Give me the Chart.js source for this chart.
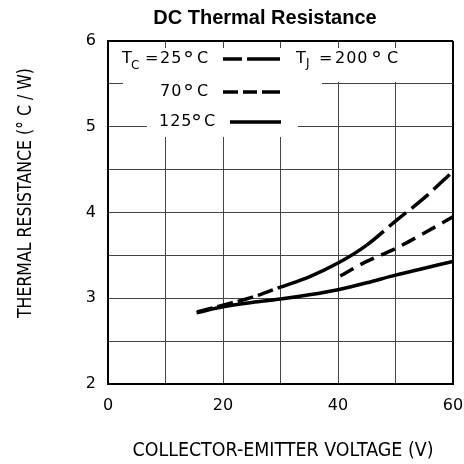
<!DOCTYPE html>
<html>
<head>
<meta charset="utf-8">
<script src="https://cdn.jsdelivr.net/npm/chart.js@4"></script>
<style>
  html, body { margin: 0; padding: 0; background: #ffffff; }
  #canvas { display: block; }
</style>
</head>
<body>
<canvas id="canvas" width="464" height="464"></canvas>
<script>
"use strict";

// curve data
const volts_25 = [15.5, 20, 25, 30, 35, 40, 45, 50, 55, 60];
const res_25 = [2.84, 2.92, 3.01, 3.13, 3.25, 3.41, 3.62, 3.9, 4.17, 4.48];

const volts_70 = [40.4, 45, 50, 55, 60];
const res_70 = [3.26, 3.43, 3.58, 3.76, 3.95];

const volts_125 = [15.4, 20, 25, 30, 35, 40, 45, 50, 55, 60];
const res_125 = [2.83, 2.9, 2.95, 2.99, 3.04, 3.1, 3.18, 3.27, 3.35, 3.43];

const x_tick_labels = [0, 20, 40, 60];
const y_tick_labels = [2, 3, 4, 5, 6];

const toPoints = (xs, ys) => xs.map((x, i) => ({ x: x, y: ys[i] }));

const canvas = document.getElementById("canvas");
const ctx = canvas.getContext("2d");

const TEXT_FONT = "DejaVu Sans";

// draws text squeezed/stretched to a given width (datasheet font is tall and narrow)
const fitText = (c, text, cx, cy, width, rotate) => {
  c.save();
  c.translate(cx, cy);
  if (rotate) c.rotate(-Math.PI / 2);
  const w = c.measureText(text).width;
  c.scale(width / w, 1);
  c.textAlign = "center";
  c.textBaseline = "middle";
  c.fillText(text, 0, 0);
  c.restore();
};

const legendBoxes = {
  id: "legendBoxes",
  beforeDatasetsDraw(chart) {
    const c = chart.ctx;
    c.save();
    c.fillStyle = "#ffffff";
    c.fillRect(109, 48, 343, 34);
    c.fillRect(123, 82, 199, 26);
    c.fillRect(147, 108, 151, 29);
    c.restore();
  },
};

const annotations = {
  id: "annotations",
  afterDraw(chart) {
    const c = chart.ctx;
    c.save();
    c.fillStyle = "#000000";
    c.strokeStyle = "#000000";

    // title
    c.font = "bold 20px 'Liberation Sans', Arial, sans-serif";
    c.textAlign = "center";
    c.textBaseline = "middle";
    c.fillText("DC Thermal Resistance", 265, 18);

    // axis titles
    c.font = "19px '" + TEXT_FONT + "'";
    fitText(c, "COLLECTOR-EMITTER VOLTAGE (V)", 283, 451, 301, false);
    fitText(c, "THERMAL RESISTANCE (\u00B0 C / W)", 26, 193, 250, true);

    // legend text
    c.textAlign = "left";
    c.letterSpacing = "1px";
    const big = "16px '" + TEXT_FONT + "'";
    const small = "12px '" + TEXT_FONT + "'";
    const deg = "22px '" + TEXT_FONT + "'";
    const put = (t, x, y, f) => {
      c.font = f;
      c.textBaseline = "middle";
      c.fillText(t, x, y);
    };
    // degree sign placed by its baseline so the circle sits near cap top
    const putDeg = (x, y) => {
      c.font = deg;
      c.textBaseline = "alphabetic";
      c.fillText("\u00B0", x, y + 8);
    };
    put("T", 122, 59, big);
    put("C", 131, 66, small);
    put("=", 145, 59, big);
    put("25", 160, 59, big);
    putDeg(183, 59);
    put("C", 197, 59, big);

    put("T", 296, 59, big);
    put("J", 306, 64, small);
    put("=", 319, 59, big);
    put("200", 335, 59, big);
    putDeg(371, 59);
    put("C", 387, 59, big);

    put("70", 160, 92, big);
    putDeg(183, 92);
    put("C", 197, 92, big);

    put("125", 159, 122, big);
    putDeg(191, 122);
    put("C", 204, 122, big);

    // legend line samples
    c.lineWidth = 3.5;
    c.lineCap = "butt";
    const seg = (x0, x1, y) => {
      c.beginPath();
      c.moveTo(x0, y);
      c.lineTo(x1, y);
      c.stroke();
    };
    seg(223, 242, 59);
    seg(247, 280, 59);
    seg(223, 238, 92);
    seg(243, 257, 92);
    seg(262, 280, 92);
    seg(230, 281, 122);
    c.restore();
  },
};

const edgeWidth = (edgeValue) => (context) =>
  context.tick && context.tick.value === edgeValue ? 2 : 1;
const edgeColor = (edgeValue) => (context) =>
  context.tick && context.tick.value === edgeValue ? "#000000" : "#444444";

const config = {
  type: "scatter",
  data: {
    datasets: [
      {
        label: "25",
        data: toPoints(volts_25, res_25),
        showLine: true,
        borderColor: "#000000",
        borderWidth: 3.5,
        pointRadius: 0,
        cubicInterpolationMode: "monotone",
        segment: {
          borderDash: (s) => {
            const x = s.p0.parsed.x;
            if (x < 27) return [16, 5];
            if (x >= 45) return [22, 7];
            return [];
          },
        },
      },
      {
        label: "70",
        data: toPoints(volts_70, res_70),
        showLine: true,
        borderColor: "#000000",
        borderWidth: 3.5,
        borderDash: [15, 8],
        pointRadius: 0,
        cubicInterpolationMode: "monotone",
      },
      {
        label: "125",
        data: toPoints(volts_125, res_125),
        showLine: true,
        borderColor: "#000000",
        borderWidth: 3.5,
        pointRadius: 0,
        cubicInterpolationMode: "monotone",
      },
    ],
  },
  plugins: [legendBoxes, annotations],
  options: {
    responsive: false,
    animation: false,
    devicePixelRatio: 1,
    layout: {
      padding: { top: 41, right: 0, left: 0, bottom: 0 },
    },
    plugins: {
      legend: { display: false },
      title: { display: false },
      tooltip: { enabled: false },
    },
    scales: {
      x: {
        type: "linear",
        min: 0,
        max: 60,
        afterFit: (scale) => {
          scale.height = 80;
          // keep the plot frame near the right edge like the datasheet
          scale.paddingRight = 11;
          scale.paddingLeft = 0;
        },
        ticks: {
          stepSize: 10,
          autoSkip: false,
          maxRotation: 0,
          padding: 12,
          color: "#000000",
          font: { family: TEXT_FONT, size: 16 },
          callback: (v) => (x_tick_labels.includes(v) ? String(v) : ""),
        },
        grid: {
          drawTicks: false,
          color: edgeColor(60),
          lineWidth: edgeWidth(60),
        },
        border: { display: true, color: "#000000", width: 2 },
      },
      y: {
        type: "linear",
        min: 2,
        max: 6,
        afterFit: (scale) => {
          scale.width = 108;
        },
        ticks: {
          stepSize: 0.5,
          autoSkip: false,
          padding: 12,
          color: "#000000",
          font: { family: TEXT_FONT, size: 16 },
          callback: (v) => (y_tick_labels.includes(v) ? String(v) : ""),
        },
        grid: {
          drawTicks: false,
          color: edgeColor(6),
          lineWidth: edgeWidth(6),
        },
        border: { display: true, color: "#000000", width: 2 },
      },
    },
  },
};

const thermalChart = new Chart(ctx, config);
</script>
</body>
</html>
